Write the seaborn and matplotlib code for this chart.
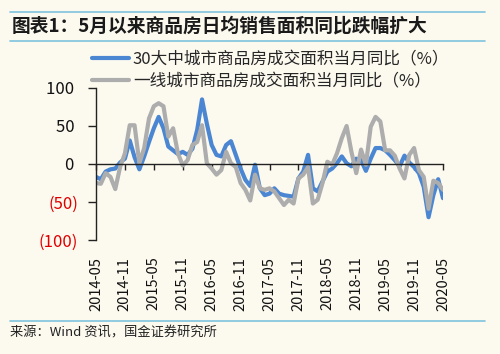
import numpy as np
import pandas as pd
import matplotlib
matplotlib.use("Agg")
import matplotlib.pyplot as plt
from matplotlib.lines import Line2D
import seaborn as sns

# monthly, 2014-05 .. 2020-05
months = pd.date_range("2014-05-01", "2020-05-01", freq="MS").strftime("%Y-%m").tolist()

city30 = [-17, -20, -10, -7, -6, 2, 7, 31, 9, -7, 10, 29, 47, 62, 47, 23, 18, 13,
          16, 12, 20, 45, 85, 53, 25, 12, 10, 25, 30, 12, -6, -21, -29, -1, -32, -41,
          -39, -32, -39, -41, -42, -43, -19, -10, 12, -32, -36, -23, -10, -6, 1, 10, 1, -3,
          7, 5, -9, 7, 21, 21, 18, 12, 5, -3, 11, 2, -4, -12, -30, -70, -41, -20, -45]
tier1 = [-25, -26, -12, -17, -33, -4, 14, 51, 51, 1, 21, 60, 76, 80, 76, 36, 47, 14,
         -2, 5, 25, 29, 51, 1, -6, -14, -8, 16, 1, -4, -25, -34, -48, -14, -32, -34,
         -32, -36, -45, -54, -47, -52, -19, -14, -4, -52, -47, -25, 3, -1, 14, 34, 50, 16,
         -12, 19, -1, 49, 62, 56, 18, 18, 11, -6, -19, 12, 21, -8, -17, -59, -22, -25, -34]

series_names = ["30大中城市商品房成交面积当月同比（%）", "一线城市商品房成交面积当月同比（%）"]
yticks = [-100, -50, 0, 50, 100]
ytick_labels = ["(100)", "(50)", "0 ", "50 ", "100 "]

bg = "#FCF9EF"
blue = "#4A86D2"
grey = "#ADADAD"
rule = "#7EC3DE"

sns.set_theme(style="white")
plt.rcParams["font.family"] = ["Noto Sans CJK SC", "DejaVu Sans"]

fig = plt.figure(figsize=(5, 3.54), dpi=100, facecolor=bg)
ax = fig.add_axes([96 / 500, 1 - 240 / 354, (443 - 96) / 500, (240 - 88) / 354])
ax.set_facecolor(bg)

x = np.arange(len(months))
sns.lineplot(x=x, y=city30, ax=ax, color=blue, linewidth=3, label=series_names[0])
sns.lineplot(x=x, y=tier1, ax=ax, color=grey, linewidth=3, label=series_names[1])

ax.set_xlim(0, len(months) - 1)
ax.set_ylim(-100, 100)
ax.set_yticks(yticks)
ax.set_yticklabels(ytick_labels, fontsize=12)
for lab, v in zip(ax.get_yticklabels(), yticks):
    lab.set_color("#E00000" if v < 0 else "#111111")

for s in ["top", "right"]:
    ax.spines[s].set_visible(False)
ax.spines["left"].set_color("#222222")
ax.spines["left"].set_linewidth(1.0)
ax.spines["bottom"].set_position(("data", 0))
ax.spines["bottom"].set_color("#222222")
ax.spines["bottom"].set_linewidth(1.0)

tick_pos = x[::6]
ax.set_xticks(tick_pos)
ax.tick_params(axis="x", direction="out", length=4, width=1, color="#222222",
               labelbottom=False, bottom=True)
ax.tick_params(axis="y", direction="out", length=6, width=1, color="#222222",
               left=True, pad=7)

sec = ax.secondary_xaxis(0)
sec.set_xticks(tick_pos)
sec.set_xticklabels([months[i] for i in tick_pos], rotation=90, fontsize=10.5, color="#111111")
sec.tick_params(length=0, pad=12)
sec.spines["bottom"].set_visible(False)

ax.set_xlabel("")
ax.set_ylabel("")
ax.legend(loc="upper left", bbox_to_anchor=(92 / 500, 1 - 51 / 354),
          bbox_transform=fig.transFigure, frameon=False, fontsize=12,
          handlelength=2.2, handletextpad=0.25, labelspacing=0.3, borderpad=0,
          borderaxespad=0)

fig.text(12 / 500, 1 - 26 / 354, "图表1：5月以来商品房日均销售面积同比跌幅扩大",
         fontsize=13.5, fontweight="bold", style="italic", color="#1a1a1a", va="center")
fig.text(10 / 500, 1 - 333 / 354, "来源：Wind 资讯，国金证券研究所",
         fontsize=9.5, color="#222222", va="center")

for yy in [12, 41, 321]:
    fig.add_artist(Line2D([10 / 500, 485 / 500], [1 - yy / 354, 1 - yy / 354],
                          transform=fig.transFigure, color=rule, linewidth=1.2))

fig.savefig("out.png", dpi=100, facecolor=bg)
